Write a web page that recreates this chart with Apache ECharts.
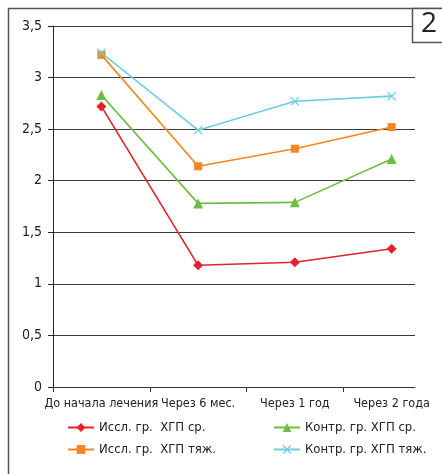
<!DOCTYPE html>
<html>
<head>
<meta charset="utf-8">
<script src="https://cdn.jsdelivr.net/npm/echarts@6/dist/echarts.min.js"></script>
<style>
  html, body { margin: 0; padding: 0; background: #fff; }
  #chart { width: 442px; height: 474px; }
</style>
</head>
<body>
<div id="chart"></div>
<script>
// Timepoints of the observation
const categories = ['До начала лечения', 'Через 6 мес.', 'Через 1 год', 'Через 2 года'];

// Group means at each timepoint
const isslSr  = [2.72, 1.18, 1.21, 1.34];
const isslTyazh = [3.22, 2.14, 2.31, 2.52];
const kontrSr = [2.83, 1.78, 1.79, 2.21];
const kontrTyazh = [3.24, 2.49, 2.77, 2.82];

const seriesNames = [
  'Иссл. гр.  ХГП ср.',
  'Иссл. гр.  ХГП тяж.',
  'Контр. гр. ХГП ср.',
  'Контр. гр. ХГП тяж.'
];

const yTicks = { min: 0, max: 3.5, interval: 0.5 };

const FONT = '"Liberation Sans Narrow", "DejaVu Sans Condensed", "Roboto", sans-serif';
const crossPath = 'path://M1,0L5,4L9,0L10,1L6,5L10,9L9,10L5,6L1,10L0,9L4,5L0,1Z';

function lineSeries(name, data, color, symbol, size) {
  return {
    name: name,
    type: 'line',
    xAxisIndex: 1,
    yAxisIndex: 1,
    data: data,
    symbol: symbol,
    symbolSize: size,
    showSymbol: true,
    lineStyle: { color: color, width: 1.6 },
    itemStyle: { color: color },
    emphasis: { disabled: true },
    animation: false
  };
}

const chart = echarts.init(document.getElementById('chart'), null, { renderer: 'canvas' });

chart.setOption({
  backgroundColor: '#ffffff',
  animation: false,
  textStyle: { fontFamily: FONT },
  grid: [
    { left: 53, top: 26, width: 362, height: 361 },
    { left: 53, top: 26, width: 387, height: 361 }
  ],
  xAxis: [
    {
      gridIndex: 0, type: 'category', data: categories,
      axisLine: { show: true, lineStyle: { color: '#333', width: 1 } },
      axisTick: { show: false },
      axisLabel: { show: false },
      splitLine: { show: false }
    },
    {
      gridIndex: 1, type: 'category', data: categories, boundaryGap: true,
      axisLine: { show: false },
      axisTick: {
        show: true, length: 5, lineStyle: { color: '#333', width: 1 },
        interval: 0
      },
      axisLabel: {
        show: true, interval: 0, margin: 10,
        color: '#222', fontSize: 12.5, fontFamily: FONT
      },
      splitLine: { show: false }
    }
  ],
  yAxis: [
    {
      gridIndex: 0, type: 'value',
      min: yTicks.min, max: yTicks.max, interval: yTicks.interval,
      axisLine: { show: true, lineStyle: { color: '#222', width: 1 } },
      axisTick: { show: true, length: 5, lineStyle: { color: '#222' } },
      axisLabel: {
        margin: 11, color: '#222', fontSize: 14, fontFamily: FONT,
        formatter: v => String(v).replace('.', ',')
      },
      splitLine: { show: true, lineStyle: { color: '#3a3a3a', width: 1.2 } }
    },
    {
      gridIndex: 1, type: 'value',
      min: yTicks.min, max: yTicks.max, interval: yTicks.interval,
      show: false
    }
  ],
  legend: [
    {
      orient: 'vertical', left: 62, top: 416, itemGap: 9,
      itemWidth: 26, itemHeight: 11,
      data: [seriesNames[0], seriesNames[1]],
      textStyle: { fontSize: 13, color: '#222', fontFamily: FONT },
      selectedMode: false
    },
    {
      orient: 'vertical', left: 268, top: 416, itemGap: 9,
      itemWidth: 26, itemHeight: 11,
      data: [seriesNames[2], seriesNames[3]],
      textStyle: { fontSize: 13, color: '#222', fontFamily: FONT },
      selectedMode: false
    }
  ],
  graphic: [
    // mask the closing tick past the end of the axis line
    { type: 'rect', shape: { x: 428, y: 376, width: 14, height: 24 },
      style: { fill: '#fff' }, silent: true, z: 100, zlevel: 1 },
    // outer frame
    { type: 'polyline', shape: { points: [[8.5, 474], [8.5, 8.5], [442, 8.5]] },
      style: { stroke: '#555', lineWidth: 1.5, fill: null }, silent: true },
    // panel number box
    { type: 'rect', shape: { x: 412.5, y: 8.5, width: 40, height: 34 },
      style: { stroke: '#555', lineWidth: 1.5, fill: '#fff' }, silent: true, z: 10 },
    { type: 'text', left: 421, top: 10, z: 11,
      style: { text: '2', fontSize: 28, fill: '#222', fontFamily: '"Open Sans", sans-serif' }, silent: true }
  ],
  series: [
    lineSeries(seriesNames[0], isslSr, '#e8202a', 'diamond', 10),
    lineSeries(seriesNames[1], isslTyazh, '#f7851f', 'rect', 8),
    lineSeries(seriesNames[2], kontrSr, '#70bd45', 'triangle', 10),
    lineSeries(seriesNames[3], kontrTyazh, '#6ccde0', crossPath, 9)
  ]
});
</script>
</body>
</html>
